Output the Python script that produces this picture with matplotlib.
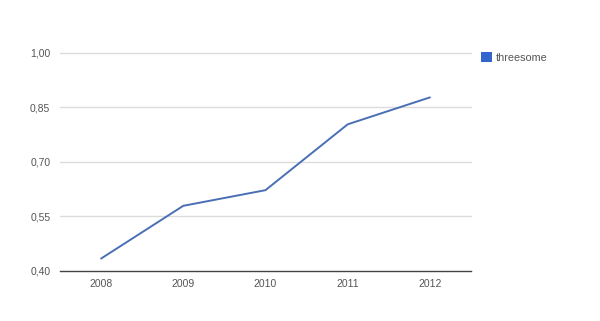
import matplotlib
matplotlib.use("Agg")
import matplotlib.pyplot as plt
from matplotlib.patches import Patch

# ---- Data ----
years = ["2008", "2009", "2010", "2011", "2012"]
values = [0.434, 0.579, 0.622, 0.803, 0.877]
yticks = [0.40, 0.55, 0.70, 0.85, 1.00]
ytick_labels = ["0,40", "0,55", "0,70", "0,85", "1,00"]

plt.rcParams['font.family'] = ['Liberation Sans', 'DejaVu Sans']

fig = plt.figure(figsize=(6.0, 3.21), dpi=100)
ax = fig.add_axes([0.1, 0.156, 0.685, 0.68])

x = range(len(years))
ax.plot(x, values, color='#4a6fb5', linewidth=1.4, solid_capstyle='round',
        label='threesome', zorder=3)

ax.set_xlim(-0.5, len(years) - 0.5)
ax.set_ylim(0.40, 1.00)
ax.set_xticks(list(x))
ax.set_xticklabels(years)
ax.set_yticks(yticks)
ax.set_yticklabels(ytick_labels)

# gridlines
for yv in yticks[1:]:
    ax.axhline(yv, color='#dcdcdc', linewidth=1.0, zorder=0, clip_on=False)
ax.axhline(yticks[0], color='#444444', linewidth=1.0, zorder=2, clip_on=False)

for side in ['top', 'right', 'left', 'bottom']:
    ax.spines[side].set_visible(False)
ax.tick_params(axis='both', length=0, labelsize=7.5, labelcolor='#555555')
ax.tick_params(axis='x', pad=6)
ax.tick_params(axis='y', pad=7)

handle = Patch(facecolor='#3366cc', edgecolor='none', label='threesome')
fig.legend(handles=[handle], loc='upper left', bbox_to_anchor=(0.802, 0.838),
           frameon=False, fontsize=7.8, handlelength=1.0, handleheight=1.0,
           handletextpad=0.35, borderaxespad=0, borderpad=0,
           labelcolor='#555555')

fig.savefig('out.png', dpi=100, facecolor='white')
